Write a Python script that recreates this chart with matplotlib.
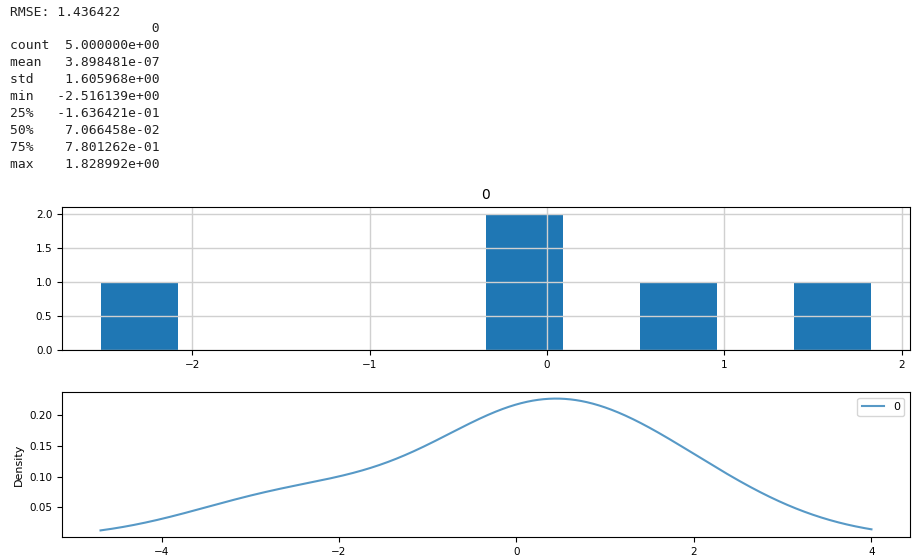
import numpy as np
import matplotlib
matplotlib.use("Agg")
import matplotlib.pyplot as plt

# residuals of the model (5 samples)
residuals = [-2.516139, -0.1636421, 0.07066458, 0.7801262, 1.828992]
rmse = 1.436422
stat_names = ["count", "mean", "std", "min", "25%", "50%", "75%", "max"]
stat_values = [5.0, 3.898481e-07, 1.605968, -2.516139, -1.636421e-01,
               7.066458e-02, 7.801262e-01, 1.828992]
col_name = "0"

res = np.array(residuals)

fig = plt.figure(figsize=(9.16, 5.55), dpi=100)

# printed output on top
lines = ["RMSE: %f" % rmse, "%19s" % col_name]
for name, val in zip(stat_names, stat_values):
    lines.append("%-5s %13s" % (name, "%e" % val))
for i, ln in enumerate(lines):
    fig.text(10 / 916, 1 - (12 + 16.9 * i) / 555, ln, family="DejaVu Sans Mono",
             fontsize=9.4, color="#222222", va="center", ha="left")

# histogram
ax1 = fig.add_axes([62 / 916, 1 - 350 / 555, 848 / 916, 143 / 555])
ax1.hist(res, bins=10, color="#1f77b4")
ax1.grid(True, color="#d0d0d0", linewidth=1)
ax1.set_title(col_name, fontsize=10)
ax1.tick_params(labelsize=7.5)

# kernel density estimate, Scott's rule bandwidth
ax2 = fig.add_axes([62 / 916, 1 - 537 / 555, 848 / 916, 145 / 555])
rng = res.max() - res.min()
xs = np.linspace(res.min() - 0.5 * rng, res.max() + 0.5 * rng, 1000)
bw = res.std(ddof=1) * len(res) ** (-1 / 5)
dens = np.exp(-0.5 * ((xs[:, None] - res[None, :]) / bw) ** 2).sum(axis=1)
dens /= len(res) * bw * np.sqrt(2 * np.pi)
ax2.plot(xs, dens, color="#1f77b4", alpha=0.75, label=col_name)
ax2.set_ylabel("Density", fontsize=8)
ax2.tick_params(labelsize=7.5)
ax2.legend(fontsize=8)

fig.savefig("out.png", dpi=100)
